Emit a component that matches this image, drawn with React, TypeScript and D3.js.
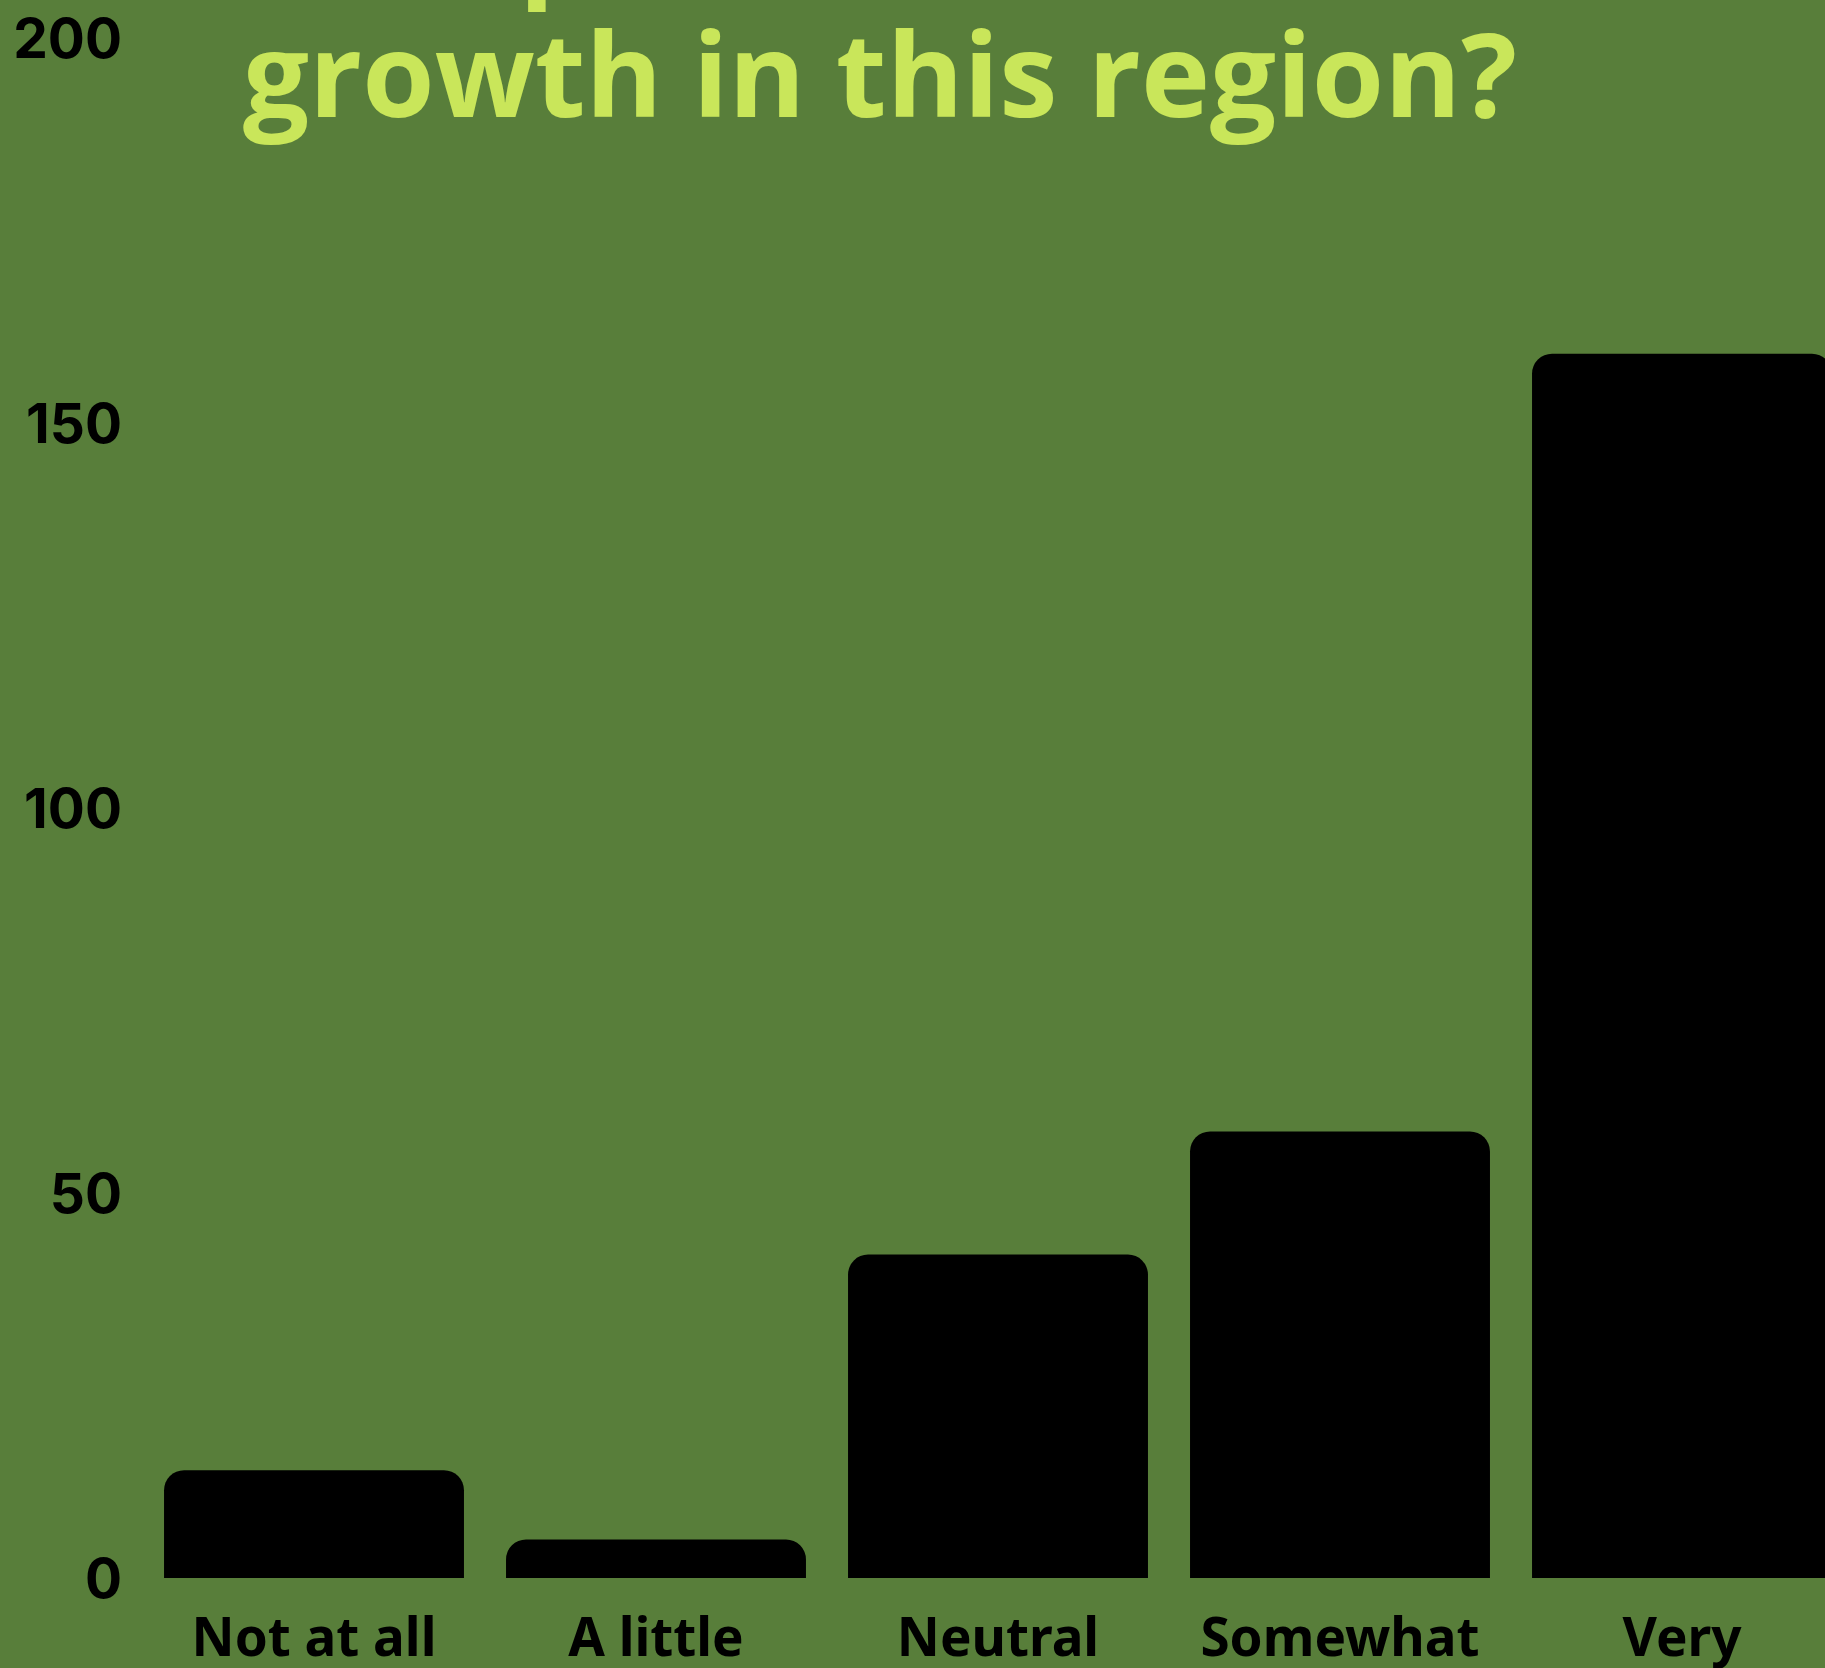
import React from 'react';
import * as d3 from 'd3';

// survey answers and counts
const categories: string[] = ['Not at all', 'A little', 'Neutral', 'Somewhat', 'Very'];
const counts: number[] = [14, 5, 42, 58, 159];
const yTicks: number[] = [0, 50, 100, 150, 200];
const titleLines: string[] = ['How important is economic', 'growth in this region?'];

const W = 1825;
const H = 1668;
const BG = '#587e3a';
const TITLE = '#c9e65a';

const App: React.FC = () => {
  const x = d3.scaleBand<string>()
    .domain(categories)
    .range([143, 143 + 342 * categories.length])
    .paddingInner(0.123)
    .paddingOuter(0.0615);

  const y = d3.scaleLinear().domain([0, 200]).range([1578, 38]);

  const r = 20;
  const barPath = (cat: string, v: number) => {
    const x0 = x(cat) as number;
    const x1 = x0 + x.bandwidth();
    const y0 = y(0);
    const y1 = y(v);
    const rr = Math.min(r, (y0 - y1), x.bandwidth() / 2);
    const p = d3.path();
    p.moveTo(x0, y0);
    p.lineTo(x0, y1 + rr);
    p.arcTo(x0, y1, x0 + rr, y1, rr);
    p.lineTo(x1 - rr, y1);
    p.arcTo(x1, y1, x1, y1 + rr, rr);
    p.lineTo(x1, y0);
    p.closePath();
    return p.toString();
  };

  return (
    <svg width={W} height={H} style={{ position: 'absolute', left: 0, top: 0, display: 'block' }}>
      <rect width={W} height={H} fill={BG} />
      <g fontFamily="'Open Sans', sans-serif" fontWeight={700} fontSize={117} fill={TITLE} textAnchor="middle">
        <text x={880} y={-16}>{titleLines[0]}</text>
        <text x={880} y={117}>{titleLines[1]}</text>
      </g>
      <g fontFamily="Inter, sans-serif" fontWeight={700} fontSize={55} fill="#000" textAnchor="end">
        {yTicks.map(t => (
          <text key={t} x={122} y={y(t)} dy="0.36em">{t}</text>
        ))}
      </g>
      <g>
        {categories.map((c, i) => (
          <path key={c} d={barPath(c, counts[i])} fill="#000" />
        ))}
      </g>
      <g fontFamily="'Noto Sans', sans-serif" fontWeight={700} fontSize={53} fill="#000" textAnchor="middle">
        {categories.map(c => (
          <text key={c} x={(x(c) as number) + x.bandwidth() / 2} y={1656}>{c}</text>
        ))}
      </g>
    </svg>
  );
};

export default App;
